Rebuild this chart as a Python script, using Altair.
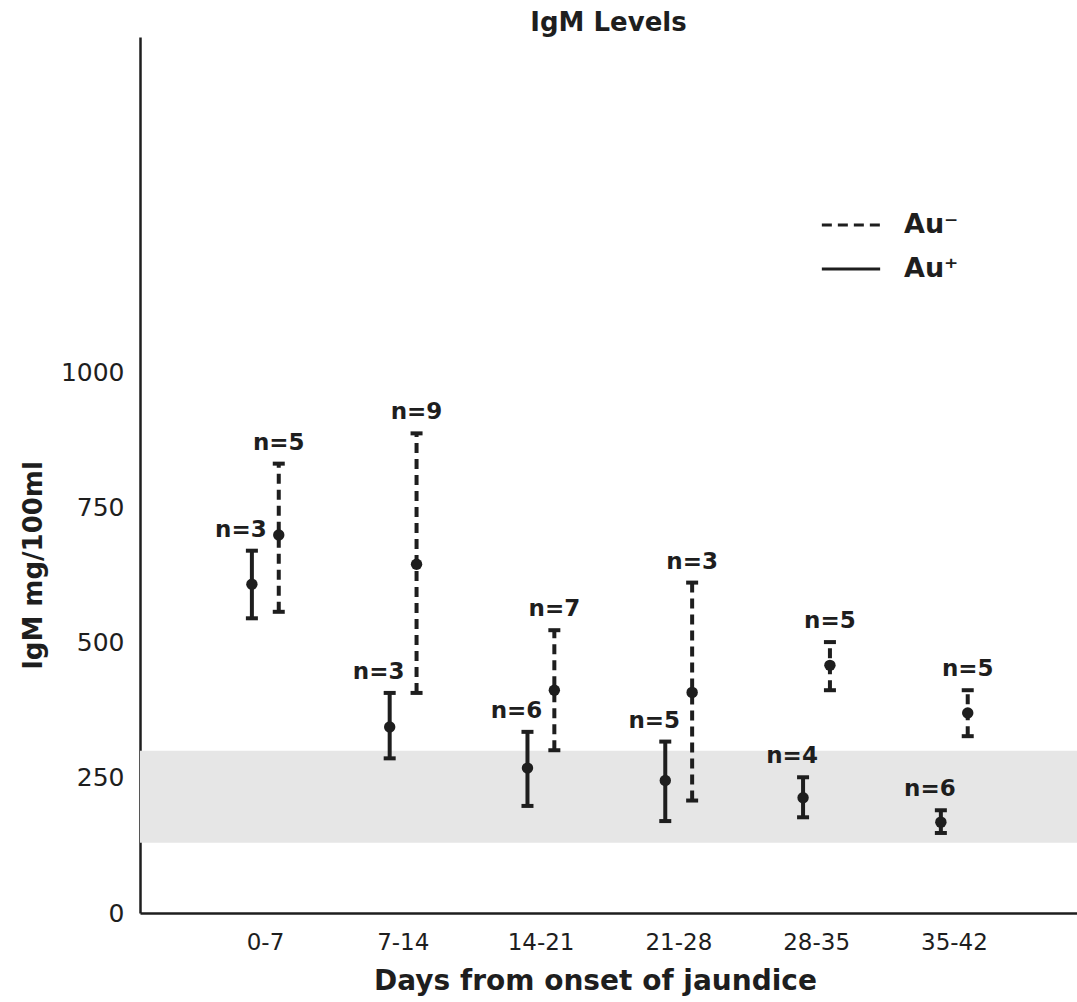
import json
import altair as alt
import pandas as pd

FONT = "DejaVu Sans"
INK = "#1e1e1e"

# ---- data ----
periods = ["0-7", "7-14", "14-21", "21-28", "28-35", "35-42"]
groups = ["Au⁻", "Au⁺"]

au_neg_mean = [699, 645, 412, 408, 458, 370]
au_neg_low = [557, 407, 301, 208, 412, 327]
au_neg_high = [831, 887, 523, 611, 501, 412]
au_neg_n = [5, 9, 7, 3, 5, 5]

au_pos_mean = [608, 344, 268, 245, 213, 168]
au_pos_low = [545, 286, 198, 170, 177, 148]
au_pos_high = [670, 407, 335, 317, 251, 190]
au_pos_n = [3, 3, 6, 5, 4, 6]

normal_low = [130]
normal_high = [300]

y_ticks = [0, 250, 500, 750, 1000]

# ---- tables ----
rows = []
for i, p in enumerate(periods):
    rows.append(dict(period=p, idx=i, group=groups[0], mean=au_neg_mean[i],
                     low=au_neg_low[i], high=au_neg_high[i], label=f"n={au_neg_n[i]}"))
    rows.append(dict(period=p, idx=i, group=groups[1], mean=au_pos_mean[i],
                     low=au_pos_low[i], high=au_pos_high[i], label=f"n={au_pos_n[i]}"))
df = pd.DataFrame(rows)
band_df = pd.DataFrame({"low": normal_low, "high": normal_high})

W, H = 937, 876
YSCALE = alt.Scale(domain=[0, 1620], nice=False, zero=True)
XSCALE = alt.Scale(domain=[-0.907, 5.893], nice=False, zero=False)

label_expr = json.dumps(periods) + "[datum.value]"

YAX = alt.Axis(values=y_ticks, format="d", title="IgM  mg/100ml", grid=False, ticks=False,
               labelFont=FONT, labelFontSize=25, labelColor=INK, labelPadding=16,
               titleFont=FONT, titleFontSize=26, titleFontWeight="bold", titleColor=INK,
               titleAngle=-90, titleX=-107, titleY=528, titleAlign="center",
               titleBaseline="middle", domainColor=INK, domainWidth=2.5)
XAX = alt.Axis(values=[0, 1, 2, 3, 4, 5], labelExpr=label_expr,
               title="Days from onset of jaundice", grid=False, ticks=False,
               labelFont=FONT, labelFontSize=23, labelColor=INK, labelPadding=18,
               labelBaseline="top",
               titleFont=FONT, titleFontSize=28, titleFontWeight="bold", titleColor=INK,
               titleX=455, titleY=68, titleAlign="center", titleBaseline="middle",
               domainColor=INK, domainWidth=2.5)

base = alt.Chart(df).transform_calculate(
    pos=f"datum.idx + (datum.group == '{groups[1]}' ? -0.095 : 0.1)"
)

band = alt.Chart(band_df).mark_rect(color="#e6e6e6").encode(
    x=alt.value(0), x2=alt.value(W),
    y=alt.Y("low:Q", scale=YSCALE, axis=YAX), y2="high:Q",
)

bars = base.mark_rule(color=INK, strokeWidth=4).encode(
    x=alt.X("pos:Q", scale=XSCALE, axis=XAX),
    y=alt.Y("low:Q", scale=YSCALE, axis=YAX),
    y2="high:Q",
    strokeDash=alt.StrokeDash(
        "group:N",
        scale=alt.Scale(domain=groups, range=[[10, 6], [1, 0]]),
        legend=alt.Legend(orient="none", legendX=680, legendY=157, title=None,
                          symbolType="stroke", symbolSize=3400, symbolStrokeWidth=3,
                          symbolStrokeColor=INK, labelFont=FONT, labelFontSize=27,
                          labelFontWeight="bold", labelColor=INK, labelOffset=22,
                          rowPadding=-9),
    ),
)

caps = base.transform_fold(["low", "high"], as_=["end", "val"]).mark_tick(
    color=INK, orient="horizontal", size=12, thickness=4, opacity=1
).encode(
    x=alt.X("pos:Q", scale=XSCALE, axis=XAX),
    y=alt.Y("val:Q", scale=YSCALE, axis=YAX),
)

dots = base.mark_circle(color=INK, size=130, opacity=1).encode(
    x=alt.X("pos:Q", scale=XSCALE, axis=XAX),
    y=alt.Y("mean:Q", scale=YSCALE, axis=YAX),
)

text_neg = base.transform_filter(f"datum.group == '{groups[0]}'").mark_text(
    font=FONT, fontSize=23, fontWeight="bold", color=INK, dy=-21, baseline="middle"
).encode(
    x=alt.X("pos:Q", scale=XSCALE, axis=XAX),
    y=alt.Y("high:Q", scale=YSCALE, axis=YAX),
    text="label:N",
)
text_pos = base.transform_filter(f"datum.group == '{groups[1]}'").mark_text(
    font=FONT, fontSize=23, fontWeight="bold", color=INK, dy=-21, dx=-11, baseline="middle"
).encode(
    x=alt.X("pos:Q", scale=XSCALE, axis=XAX),
    y=alt.Y("high:Q", scale=YSCALE, axis=YAX),
    text="label:N",
)

chart = alt.layer(band, bars, caps, dots, text_neg, text_pos).properties(
    width=W, height=H,
    background="white",
    title=alt.TitleParams("IgM Levels", font=FONT, fontSize=26, fontWeight="bold",
                          color=INK, anchor="middle", offset=1),
    autosize=alt.AutoSizeParams(type="none"),
    padding={"left": 140, "top": 37, "right": 0, "bottom": 89},
).configure_view(strokeWidth=0, stroke="transparent")

chart.save("out.html", embed_options={"renderer": "svg", "actions": False})
